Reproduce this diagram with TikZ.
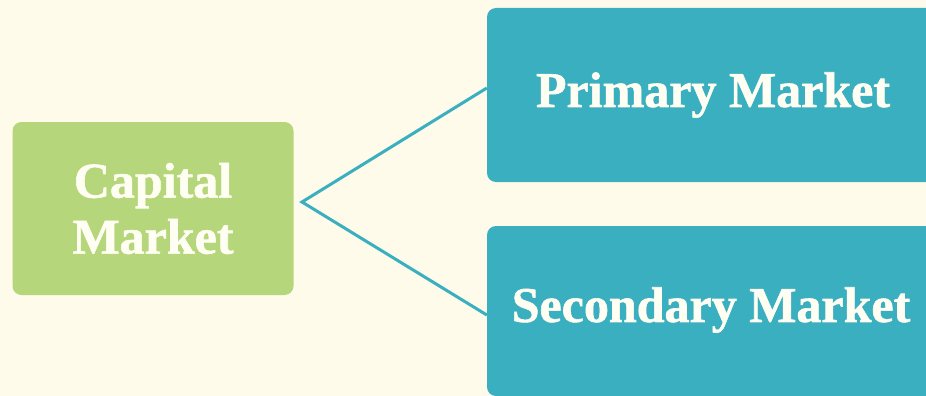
\documentclass[tikz,border=0pt]{standalone}
\usepackage{fontspec}
\setmainfont{Liberation Serif}[BoldFeatures={FakeBold=1.2}]
\definecolor{bgc}{HTML}{FEFBEA}
\definecolor{greenc}{HTML}{B5D67A}
\definecolor{tealc}{HTML}{3AAFC0}
\definecolor{txtc}{HTML}{FFFEF2}
\begin{document}
\begin{tikzpicture}[x=1pt,y=-1pt,
  boxstyle/.style={rounded corners=9pt, inner sep=0pt, font=\fontsize{50}{56}\selectfont\bfseries, text=txtc, align=center},
  linkstyle/.style={draw=tealc, line width=3pt}]
\useasboundingbox (0,0) rectangle (926,396);
\clip (0,0) rectangle (926,396);
\fill[bgc] (0,0) rectangle (926,396);
\node[boxstyle, fill=greenc, minimum width=281pt, minimum height=173pt] (cap) at (153,208.5) {Capital\\Market};
\node[boxstyle, fill=tealc, minimum width=460pt, minimum height=174pt] (pri) at (717,95) {};
\node[boxstyle] (prit) at (713,95) {Primary Market};
\node[boxstyle, fill=tealc, minimum width=460pt, minimum height=170pt] (sec) at (717,311) {};
\node[boxstyle] (sect) at (711,310) {Secondary Market};
\coordinate (apex) at (302,202);
\draw[linkstyle] ([yshift=7pt]pri.west) -- (apex) -- ([yshift=-4pt]sec.west);
\end{tikzpicture}
\end{document}
